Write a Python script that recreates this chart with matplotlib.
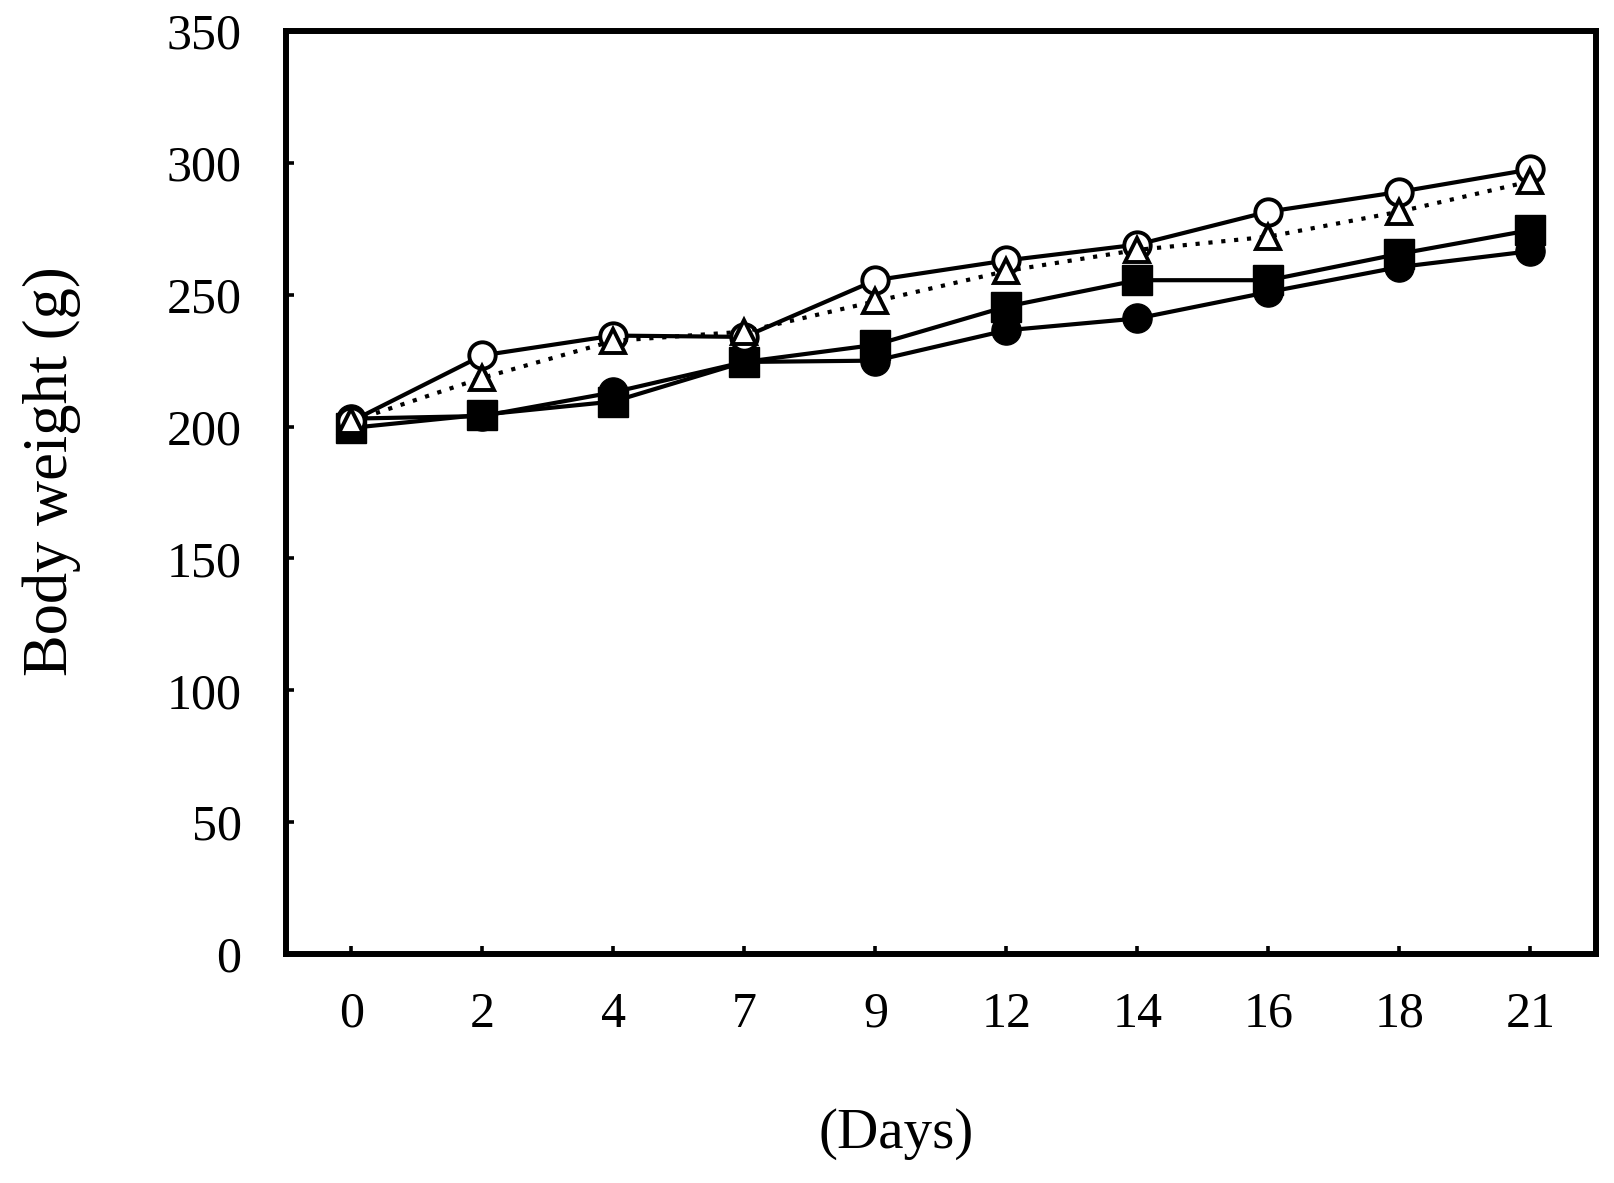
import numpy as np
import matplotlib
matplotlib.use('Agg')
from matplotlib import pyplot as plt

# body weight over the study period
days = ['0', '2', '4', '7', '9', '12', '14', '16', '18', '21']
open_circle = [202, 227, 234.5, 234, 255.5, 263, 269, 281.5, 289, 297.5]
open_triangle = [202, 218.5, 232.5, 236, 247.5, 259, 267, 272, 281.5, 293]
filled_square = [199.5, 204.5, 209.5, 224.5, 231, 245.5, 255.5, 255.5, 265.5, 274.5]
filled_circle = [203, 204, 213, 224.5, 225, 236.5, 241, 251, 260.5, 266.5]

plt.rcParams['font.family'] = ['Liberation Serif', 'DejaVu Serif']

fig = plt.figure(figsize=(16.14, 11.83), dpi=100)
ax = fig.add_axes([0.1772, 0.1936, 0.8116, 0.7802])

x = np.arange(len(days))
lw = 3.0

ax.plot(x, open_circle, c='black', lw=lw, marker='o', ms=19, mfc='white', mec='black', mew=2.8, zorder=3)
ax.plot(x, open_triangle, c='black', lw=lw, ls=(0, (1, 2.1)), marker='^', ms=17, mfc='white', mec='black', mew=2.8, zorder=4)
ax.plot(x, filled_square, c='black', lw=lw, marker='s', ms=22, mfc='black', mec='black', zorder=2)
ax.plot(x, filled_circle, c='black', lw=lw, marker='o', ms=21, mfc='black', mec='black', zorder=2)

ax.set_xlim(-0.5, 9.5)
ax.set_ylim(0, 350)
ax.set_xticks(x)
ax.set_xticklabels(days)
ax.set_yticks(np.arange(0, 351, 50))

for s in ax.spines.values():
    s.set_linewidth(4.3)

ax.tick_params(axis='both', direction='in', length=6, width=2.6, labelsize=36, top=False, right=False)
ax.tick_params(axis='y', pad=32)
ax.tick_params(axis='x', pad=27)

ax.set_ylabel('Body weight (g)', fontsize=45, va='center')
ax.yaxis.set_label_coords(-0.1786, 0.523)
ax.set_xlabel('(Days)', fontsize=41, va='center')
ax.xaxis.set_label_coords(0.466, -0.195)

plt.savefig('out.png', dpi=100)
